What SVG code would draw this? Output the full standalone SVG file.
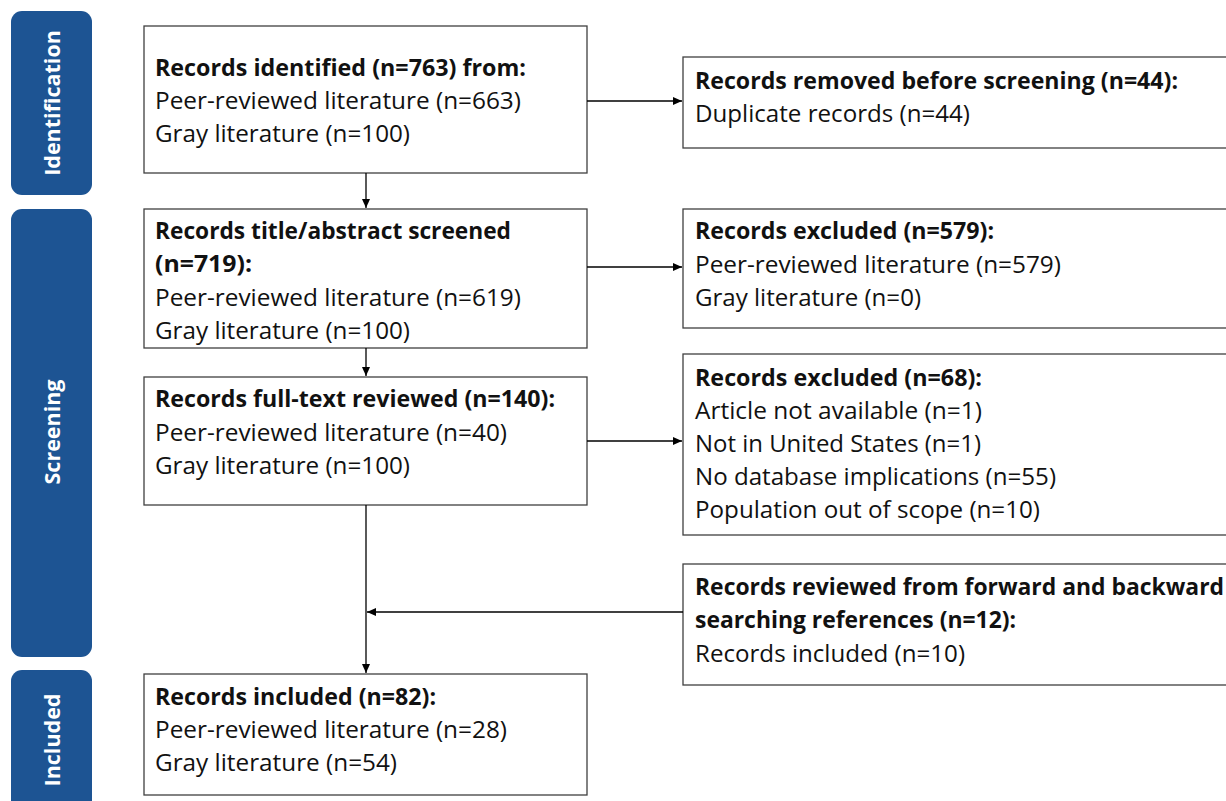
<svg xmlns="http://www.w3.org/2000/svg" width="1226" height="801" viewBox="0 0 1226 801">
<defs>
<marker id="ah" markerWidth="10" markerHeight="10" refX="9" refY="5" orient="auto" markerUnits="userSpaceOnUse">
<path d="M0,1 L9,5 L0,9 Z" fill="#000"/>
</marker>
<style>
.side{fill:#1D5493}
.st{fill:#fff;font-family:"Open Sans",sans-serif;font-weight:700;font-size:21.5px;text-anchor:middle}
.box{fill:#fff;stroke:#404040;stroke-width:1.3}
.t{font-family:"Open Sans","Liberation Sans",sans-serif;font-size:23px;fill:#111}
.b{font-weight:700}
.c{stroke:#000;stroke-width:1.3;fill:none}
</style>
</defs>
<rect width="1226" height="801" fill="#fff"/>
<g id="phase-identification">
<rect class="side" x="11" y="11" width="81" height="184" rx="11"/>
<text class="st" transform="translate(60,103) rotate(-90)">Identification</text>
</g>
<g id="phase-screening">
<rect class="side" x="11" y="209" width="81" height="448" rx="11"/>
<text class="st" transform="translate(60,432) rotate(-90)">Screening</text>
</g>
<g id="phase-included">
<path class="side" d="M11,812 V681 a11,11 0 0 1 11,-11 H81 a11,11 0 0 1 11,11 V812 Z"/>
<text class="st" transform="translate(60,740) rotate(-90)">Included</text>
</g>
<g id="identified">
<rect class="box" x="144" y="26" width="443" height="147"/>
<text class="t b" x="155" y="76" textLength="371" lengthAdjust="spacingAndGlyphs">Records identified (n=763) from:</text>
<text class="t" x="155" y="109" textLength="366" lengthAdjust="spacingAndGlyphs">Peer-reviewed literature (n=663)</text>
<text class="t" x="155" y="142" textLength="255" lengthAdjust="spacingAndGlyphs">Gray literature (n=100)</text>
</g>
<g id="removed">
<rect class="box" x="683" y="57" width="560" height="91"/>
<text class="t b" x="695" y="89" textLength="483" lengthAdjust="spacingAndGlyphs">Records removed before screening (n=44):</text>
<text class="t" x="695" y="122" textLength="275" lengthAdjust="spacingAndGlyphs">Duplicate records (n=44)</text>
</g>
<g id="screened">
<rect class="box" x="144" y="209" width="443" height="139"/>
<text class="t b" x="155" y="239" textLength="356" lengthAdjust="spacingAndGlyphs">Records title/abstract screened</text>
<text class="t b" x="155" y="272" textLength="97" lengthAdjust="spacingAndGlyphs">(n=719):</text>
<text class="t" x="155" y="306" textLength="366" lengthAdjust="spacingAndGlyphs">Peer-reviewed literature (n=619)</text>
<text class="t" x="155" y="339" textLength="255" lengthAdjust="spacingAndGlyphs">Gray literature (n=100)</text>
</g>
<g id="excluded-579">
<rect class="box" x="683" y="209" width="560" height="119"/>
<text class="t b" x="695" y="239" textLength="299" lengthAdjust="spacingAndGlyphs">Records excluded (n=579):</text>
<text class="t" x="695" y="273" textLength="366" lengthAdjust="spacingAndGlyphs">Peer-reviewed literature (n=579)</text>
<text class="t" x="695" y="306" textLength="226" lengthAdjust="spacingAndGlyphs">Gray literature (n=0)</text>
</g>
<g id="fulltext">
<rect class="box" x="144" y="377" width="443" height="128"/>
<text class="t b" x="155" y="407" textLength="400" lengthAdjust="spacingAndGlyphs">Records full-text reviewed (n=140):</text>
<text class="t" x="155" y="441" textLength="352" lengthAdjust="spacingAndGlyphs">Peer-reviewed literature (n=40)</text>
<text class="t" x="155" y="474" textLength="255" lengthAdjust="spacingAndGlyphs">Gray literature (n=100)</text>
</g>
<g id="excluded-68">
<rect class="box" x="683" y="354" width="560" height="181"/>
<text class="t b" x="695" y="386" textLength="287" lengthAdjust="spacingAndGlyphs">Records excluded (n=68):</text>
<text class="t" x="695" y="419" textLength="287" lengthAdjust="spacingAndGlyphs">Article not available (n=1)</text>
<text class="t" x="695" y="452" textLength="286" lengthAdjust="spacingAndGlyphs">Not in United States (n=1)</text>
<text class="t" x="695" y="485" textLength="361" lengthAdjust="spacingAndGlyphs">No database implications (n=55)</text>
<text class="t" x="695" y="518" textLength="345" lengthAdjust="spacingAndGlyphs">Population out of scope (n=10)</text>
</g>
<g id="forward-backward">
<rect class="box" x="683" y="564" width="560" height="121"/>
<text class="t b" x="695" y="595" textLength="529" lengthAdjust="spacingAndGlyphs">Records reviewed from forward and backward</text>
<text class="t b" x="695" y="628" textLength="321" lengthAdjust="spacingAndGlyphs">searching references (n=12):</text>
<text class="t" x="695" y="662" textLength="270" lengthAdjust="spacingAndGlyphs">Records included (n=10)</text>
</g>
<g id="included">
<rect class="box" x="144" y="674" width="443" height="121"/>
<text class="t b" x="155" y="705" textLength="281" lengthAdjust="spacingAndGlyphs">Records included (n=82):</text>
<text class="t" x="155" y="738" textLength="352" lengthAdjust="spacingAndGlyphs">Peer-reviewed literature (n=28)</text>
<text class="t" x="155" y="771" textLength="242" lengthAdjust="spacingAndGlyphs">Gray literature (n=54)</text>
</g>
<g id="connectors">
<line class="c" x1="587" y1="101" x2="682" y2="101" marker-end="url(#ah)"/>
<line class="c" x1="366" y1="173" x2="366" y2="208" marker-end="url(#ah)"/>
<line class="c" x1="587" y1="267" x2="682" y2="267" marker-end="url(#ah)"/>
<line class="c" x1="366" y1="348" x2="366" y2="376" marker-end="url(#ah)"/>
<line class="c" x1="587" y1="441" x2="682" y2="441" marker-end="url(#ah)"/>
<line class="c" x1="366" y1="505" x2="366" y2="673" marker-end="url(#ah)"/>
<line class="c" x1="683" y1="612" x2="367" y2="612" marker-end="url(#ah)"/>
</g>
</svg>
